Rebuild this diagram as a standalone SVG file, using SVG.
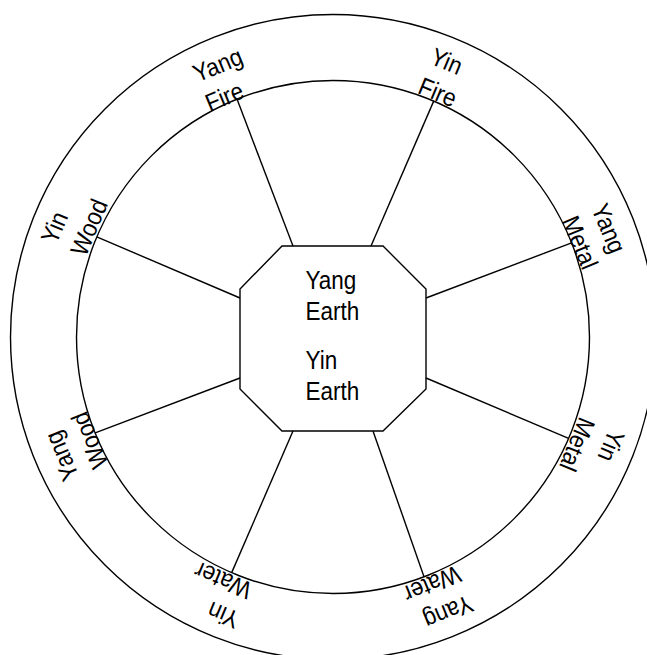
<svg xmlns="http://www.w3.org/2000/svg" width="647" height="655" viewBox="0 0 647 655">
<style>
.ln{fill:none;stroke:#000;stroke-width:1.4}
.t{font-family:"Liberation Sans",Arial,sans-serif;font-size:25px;fill:#000}
</style>
<rect x="0" y="0" width="647" height="655" fill="#fff"/>
<g id="ring">
<circle class="ln" cx="333" cy="337" r="322.5"/>
<circle class="ln" cx="333" cy="337" r="256.5"/>
</g>
<g id="connectors">
<line class="ln" x1="293" y1="246" x2="237" y2="99.1"/>
<line class="ln" x1="371" y1="246" x2="433.7" y2="101.1"/>
<line class="ln" x1="426" y1="298" x2="571.6" y2="242.9"/>
<line class="ln" x1="426" y1="378" x2="568.6" y2="438.3"/>
<line class="ln" x1="373" y1="431" x2="424" y2="576.8"/>
<line class="ln" x1="293" y1="431" x2="231.7" y2="572.6"/>
<line class="ln" x1="240" y1="378" x2="95.2" y2="432.9"/>
<line class="ln" x1="240" y1="298" x2="96.8" y2="236.9"/>
</g>
<g id="earth">
<polygon class="ln" fill="#fff" points="282,246 383,246 426,289 426,389 383,431 282,431 240,389 240,289"/>
<g transform="translate(305.5,0) scale(0.9,1)">
<text class="t" x="0" y="289">Yang</text>
<text class="t" x="0" y="320">Earth</text>
<text class="t" x="0" y="369">Yin</text>
<text class="t" x="0" y="400">Earth</text>
</g>
</g>
<g id="yang-fire" transform="translate(222,80.5) rotate(-22.5) scale(0.9,1)">
<text class="t" x="-26" y="-7.5">Yang</text>
<text class="t" x="-26" y="24.5">Fire</text>
</g>
<g id="yin-fire" transform="translate(442.5,77) rotate(22.5) scale(0.9,1)">
<text class="t" x="-20" y="-7.5">Yin</text>
<text class="t" x="-20" y="24.5">Fire</text>
</g>
<g id="yang-metal" transform="translate(594.5,236) rotate(67.5) scale(0.9,1)">
<text class="t" x="-30" y="-7.5">Yang</text>
<text class="t" x="-30" y="24.5">Metal</text>
</g>
<g id="yin-metal" transform="translate(594,445.5) rotate(112.5) scale(0.9,1)">
<text class="t" x="-24.5" y="-7.5">Yin</text>
<text class="t" x="-24.5" y="24.5">Metal</text>
</g>
<g id="yang-water" transform="translate(439.5,598.5) rotate(157.5) scale(0.9,1)">
<text class="t" x="-31.5" y="-7.5">Yang</text>
<text class="t" x="-31.5" y="24.5">Water</text>
</g>
<g id="yin-water" transform="translate(222.5,597.5) rotate(202.5) scale(0.9,1)">
<text class="t" x="-26" y="-7.5">Yin</text>
<text class="t" x="-26" y="24.5">Water</text>
</g>
<g id="yang-wood" transform="translate(75.5,447.5) rotate(247.5) scale(0.9,1)">
<text class="t" x="-31" y="-7.5">Yang</text>
<text class="t" x="-31" y="24.5">Wood</text>
</g>
<g id="yin-wood" transform="translate(72,227) rotate(292.5) scale(0.9,1)">
<text class="t" x="-25.5" y="-7.5">Yin</text>
<text class="t" x="-25.5" y="24.5">Wood</text>
</g>
</svg>
